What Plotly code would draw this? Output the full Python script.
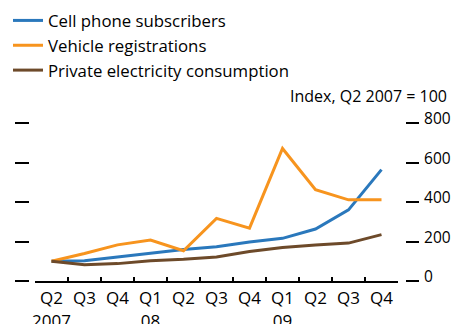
import plotly.graph_objects as go

categories = ["Q2 2007", "Q3 2007", "Q4 2007", "Q1 2008", "Q2 2008", "Q3 2008",
              "Q4 2008", "Q1 2009", "Q2 2009", "Q3 2009", "Q4 2009"]
tick_labels = ["Q2<br>2007", "Q3", "Q4", "Q1<br>08", "Q2", "Q3", "Q4", "Q1<br>09", "Q2", "Q3", "Q4"]

cell_phone = [100, 102, 122, 141, 160, 173, 197, 216, 263, 360, 564]
vehicles = [100, 139, 183, 207, 153, 317, 268, 671, 462, 411, 411]
electricity = [100, 82, 88, 102, 110, 122, 149, 170, 182, 192, 235]

y_ticks = [0, 200, 400, 600, 800]

W, H = 451, 324
FONT = "Open Sans"

fig = go.Figure()
series = [
    ("Cell phone subscribers", cell_phone, "#2a78bc"),
    ("Vehicle registrations", vehicles, "#f7941e"),
    ("Private electricity consumption", electricity, "#6d4a2a"),
]
for name, vals, col in series:
    fig.add_trace(go.Scatter(x=categories, y=vals, mode="lines", name=name,
                             line=dict(color=col, width=3), yaxis="y"))

fig.update_layout(
    width=W, height=H,
    margin=dict(l=0, r=0, t=0, b=0, autoexpand=False),
    paper_bgcolor="white", plot_bgcolor="white",
    font=dict(family=FONT, size=16, color="black"),
    showlegend=True,
    legend=dict(x=8 / W, y=1 - 3 / H, xanchor="left", yanchor="top",
                font=dict(size=16.8), tracegroupgap=0, bgcolor="rgba(0,0,0,0)"),
    xaxis=dict(domain=[35 / W, 398 / W], type="category",
               range=[-0.5, 10.5], tickmode="array", tickvals=categories,
               ticktext=tick_labels, tickson="boundaries", ticks="inside",
               ticklen=4, tickwidth=1.5, tickcolor="black", tickangle=0,
               showline=True, linecolor="black", linewidth=2,
               showgrid=False, zeroline=False, anchor="y", automargin=False,
               ticklabelstandoff=1, tickfont=dict(size=17)),
    yaxis=dict(domain=[(H - 281) / H, (H - 123) / H], range=[0, 800],
               tickvals=y_ticks, ticks="outside", ticklen=13, tickwidth=1.5,
               tickcolor="black", side="right", anchor="free", position=405 / W,
               showline=False, showgrid=False, zeroline=False, automargin=False,
               ticklabelshift=-4, ticklabelstandoff=2, tickfont=dict(size=15.5)),
    yaxis2=dict(domain=[(H - 281) / H, (H - 123) / H], range=[0, 800],
                overlaying="y", tickvals=y_ticks, ticks="outside", ticklen=14,
                tickwidth=1.5, tickcolor="black", side="left", anchor="free",
                position=29 / W, showticklabels=False, showline=False,
                showgrid=False, zeroline=False, automargin=False),
)
# invisible trace to activate the left tick axis
fig.add_trace(go.Scatter(x=[categories[0]], y=[0], yaxis="y2", mode="markers",
                         marker=dict(opacity=0), showlegend=False, hoverinfo="skip"))

fig.add_annotation(text="Index, Q2 2007 = 100", xref="paper", yref="paper",
                   x=1 - 2 / W, y=1 - 96 / H, xanchor="right", yanchor="middle",
                   showarrow=False, font=dict(size=16))

fig.write_html("out.html", config={"displayModeBar": False},
               post_script="document.body.style.margin='0';")
